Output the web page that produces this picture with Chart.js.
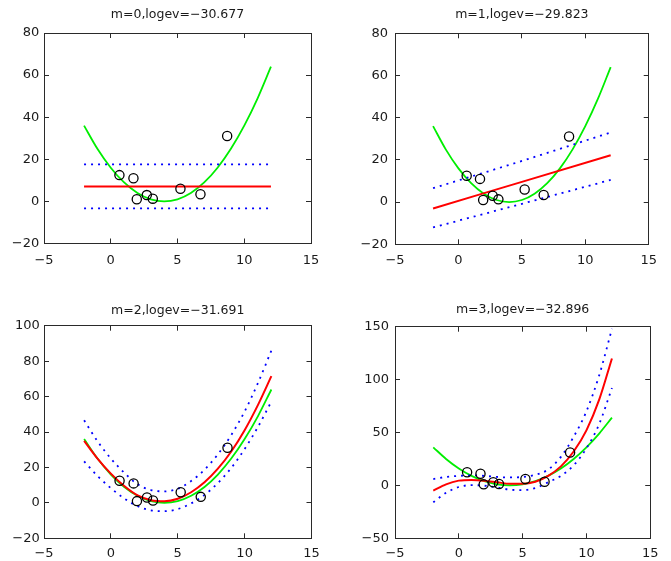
<!DOCTYPE html>
<html><head><meta charset="utf-8">
<script src="https://cdn.jsdelivr.net/npm/chart.js@4.4.1/dist/chart.umd.min.js"></script>
<style>
html,body{margin:0;padding:0;background:#fff;}
body{width:671px;height:561px;position:relative;overflow:hidden;}
canvas{position:absolute;}
</style></head><body>
<canvas id="c0" width="335" height="280" style="left:0;top:0"></canvas>
<canvas id="c1" width="336" height="280" style="left:335px;top:0"></canvas>
<canvas id="c2" width="335" height="281" style="left:0;top:280px"></canvas>
<canvas id="c3" width="336" height="281" style="left:335px;top:280px"></canvas>
<script>
// ---- data ----
const titles = ['m=0,logev=\u221230.677', 'm=1,logev=\u221229.823', 'm=2,logev=\u221231.691', 'm=3,logev=\u221232.896'];
const obsX = [0.65, 1.7, 1.95, 2.7, 3.15, 5.22, 6.72, 8.72];
const obsY = [12.5, 11, 1, 3, 1.3, 6, 3.4, 31.1];
const gridX = [-2, -1, 0, 1, 2, 3, 4, 5, 6, 7, 8, 9, 10, 11, 12];
const trueY = [36, 25, 16, 9, 4, 1, 0, 1, 4, 9, 16, 25, 36, 49, 64];
// m = 0
const m0X = [-2, 12];
const m0Mean = [7.1, 7.1];
const m0Upper = [17.6, 17.6];
const m0Lower = [-3.3, -3.3];
// m = 1
const m1X = [-2, 5, 12];
const m1Mean = [-3, 9.6, 22.2];
const m1Upper = [6.6, 19.5, 33];
const m1Lower = [-12, -0.8, 10.5];
// m = 2
const m2Mean = [35, 25, 16.5, 9.5, 4.2, 1.5, 0.9, 2.3, 6, 11.6, 19.3, 29, 41, 55.3, 71.5];
const m2Upper = [46.6, 34.8, 25, 17, 10.5, 7.2, 6.5, 8, 12.3, 18.7, 27.4, 38.3, 51.6, 67.7, 86];
const m2Lower = [23.4, 15.2, 8.3, 2.5, -1.9, -4.2, -4.7, -3.5, -0.3, 4.5, 11.2, 19.7, 30.4, 42.9, 57.2];
// m = 3
const m3Mean = [-5, 1, 4.5, 5.2, 4.5, 3, 1.5, 1.5, 3.5, 9, 18, 32, 52, 81, 120];
const m3Upper = [6, 8, 9, 9.5, 9, 8, 7.5, 8, 10, 15, 27, 46, 70, 104, 148];
const m3Lower = [-16, -7, -1.5, 0.3, -0.3, -2, -4, -4.5, -2.5, 3, 9, 19, 35, 58, 92];
// axis ranges
const xRange = [-5, 15, 5];
const yRanges = [[-20, 80, 20], [-20, 80, 20], [-20, 100, 20], [-50, 150, 50]];

// ---- layout (pixels inside each canvas) ----
const geoms = [
  {left: 44, right: 24, top: 33, bottom: 36.5, pt: 7.5, pb: 10.5, ylab: 4.7, xlab: 14},
  {left: 60, right: 11, top: 33.3, bottom: 35.7, pt: 7.5, pb: 10.8, ylab: 7, xlab: 14},
  {left: 44, right: 23.5, top: 45.7, bottom: 22.7, pt: 23.5, pb: 7.2, ylab: 4.3, xlab: 12.5},
  {left: 60, right: 11, top: 46.7, bottom: 22.7, pt: 22.5, pb: 9.2, ylab: 6, xlab: 12.5}
];

const pts = (xs, ys) => xs.map((x, i) => ({x: x, y: ys[i]}));
const fmt = v => (v < 0 ? '\u2212' + Math.abs(v) : String(v));
const TFONT = {family: 'DejaVu Sans', size: 12.5, weight: 'normal', lineHeight: 1.2};
const FONT = {family: 'DejaVu Sans', size: 13, weight: 'normal', lineHeight: 1.2};
const AXC = '#2a2a2a';

function lineDs(data, color, width, dash) {
  return {data: data, showLine: true, borderColor: color, backgroundColor: color,
    borderWidth: width, borderDash: dash || [], pointRadius: 0, pointHoverRadius: 0,
    cubicInterpolationMode: 'monotone', fill: false};
}

const panelSeries = [
  {x: m0X, mean: m0Mean, up: m0Upper, lo: m0Lower},
  {x: m1X, mean: m1Mean, up: m1Upper, lo: m1Lower},
  {x: gridX, mean: m2Mean, up: m2Upper, lo: m2Lower},
  {x: gridX, mean: m3Mean, up: m3Upper, lo: m3Lower}
];

panelSeries.forEach((s, k) => {
  const g = geoms[k];
  const yr = yRanges[k];
  const gridOpts = {drawOnChartArea: false, drawTicks: true, tickLength: -5, color: AXC, lineWidth: 1};
  const borderOpts = {display: true, color: AXC, width: 1};
  new Chart(document.getElementById('c' + k), {
    type: 'scatter',
    data: {
      datasets: [
        {data: pts(obsX, obsY), pointStyle: 'circle', pointRadius: 4.6, pointHoverRadius: 4.6,
         borderColor: '#000', backgroundColor: 'rgba(0,0,0,0)', pointBorderWidth: 1.3, showLine: false},
        lineDs(pts(s.x, s.mean), '#ff0000', 2),
        lineDs(pts(s.x, s.up), '#0000ff', 1.8, [2, 5]),
        lineDs(pts(s.x, s.lo), '#0000ff', 1.8, [2, 5]),
        lineDs(pts(gridX, trueY), '#00ee00', 1.8)
      ]
    },
    options: {
      responsive: false, animation: false, devicePixelRatio: 1,
      events: [],
      layout: {padding: {left: 0, right: g.right, top: 0, bottom: 0}},
      plugins: {
        legend: {display: false}, tooltip: {enabled: false},
        title: {display: true, text: titles[k], fullSize: false, color: '#1a1a1a',
          font: TFONT, padding: {top: g.pt, bottom: g.pb}}
      },
      scales: {
        x: {type: 'linear', position: 'bottom', min: xRange[0], max: xRange[1],
          ticks: {stepSize: xRange[2], callback: fmt, color: '#1a1a1a', font: FONT, padding: g.xlab, maxRotation: 0, autoSkip: false},
          grid: gridOpts, border: borderOpts,
          afterFit: sc => { sc.height = g.bottom; }},
        x2: {type: 'linear', position: 'top', min: xRange[0], max: xRange[1],
          ticks: {stepSize: xRange[2], display: false},
          grid: gridOpts, border: borderOpts,
          afterFit: sc => { sc.height = 0; }},
        y: {type: 'linear', position: 'left', min: yr[0], max: yr[1],
          ticks: {stepSize: yr[2], callback: fmt, color: '#1a1a1a', font: FONT, padding: 5 + g.ylab, autoSkip: false},
          grid: gridOpts, border: borderOpts,
          afterFit: sc => { sc.width = g.left; }},
        y2: {type: 'linear', position: 'right', min: yr[0], max: yr[1],
          ticks: {stepSize: yr[2], display: false},
          grid: gridOpts, border: borderOpts,
          afterFit: sc => { sc.width = 0; }}
      }
    }
  });
});
</script>
</body></html>
